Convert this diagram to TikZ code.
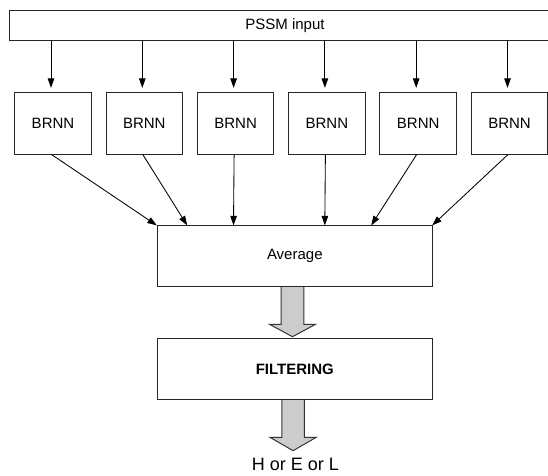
\documentclass[tikz,border=0pt]{standalone}
\usepackage{fontspec}
\setmainfont{Liberation Sans}
\usetikzlibrary{arrows.meta,calc}
\begin{document}
\begin{tikzpicture}[x=1pt,y=-1pt,
  box/.style={draw=black!85,line width=1pt,inner sep=0pt,font=\fontsize{15}{17}\selectfont},
  brnn/.style={box,minimum width=76.6pt,minimum height=61.3pt},
  wide/.style={box,minimum width=275pt,minimum height=60.6pt},
  arr/.style={draw=black,line width=0.85pt,-{Triangle[length=9.5pt,width=6.5pt]}},
  bigarrow/.style={draw=black!80,line width=1pt,fill=black!20}]
\clip (0,0) rectangle (548,475);
\useasboundingbox (0,0) rectangle (548,475);
\node[box,minimum width=550.6pt,minimum height=30pt] (pssm) at (285,25.7) {PSSM input};
\foreach \i/\x in {1/53,2/144.3,3/235.6,4/326.9,5/418.2,6/509.5}{
  \node[brnn] (b\i) at (\x,123.35) {BRNN};
}
\node[wide] (avg) at (294.8,256.2) {Average};
\node[wide] (filt) at (294.8,369.2) {\textbf{FILTERING}};
\node[anchor=base,inner sep=0pt,font=\fontsize{18}{20}\selectfont] (out) at (295.5,470.5) {H or E or L};
% arrows from PSSM input to BRNNs
\foreach \i in {1,...,6}{
  \coordinate (t\i) at ([xshift=-2pt]b\i.north);
  \draw[arr,shorten >=4.3pt] (t\i |- pssm.south) -- (t\i);
}
% arrows from BRNNs to Average
\foreach \i/\e in {1/0,2/30.4,3/76.7,4/168,5/214.4,6/275.4}{
  \coordinate (s\i) at ([xshift=-1.5pt]b\i.south);
  \coordinate (e\i) at ([xshift=\e pt]avg.north west);
  \draw[arr] (s\i) -- (e\i);
}
% block arrows
\coordinate (c1) at ([xshift=-2.3pt]avg.south);
\draw[bigarrow] ([xshift=-11.3pt]c1) -- ([xshift=-11.3pt,yshift=-37.3pt]c1) -- ([xshift=-23pt,yshift=-37.3pt]c1)
  -- ($(c1 |- filt.north)+(0,-1.7)$) -- ([xshift=23pt,yshift=-37.3pt]c1) -- ([xshift=11.3pt,yshift=-37.3pt]c1)
  -- ([xshift=11.3pt]c1) ;
\coordinate (c2) at ([xshift=-1.7pt]filt.south);
\draw[bigarrow] ([xshift=-11.3pt]c2) -- ([xshift=-11.3pt,yshift=-37.4pt]c2) -- ([xshift=-23pt,yshift=-37.4pt]c2)
  -- ([yshift=-50.7pt]c2) -- ([xshift=23pt,yshift=-37.4pt]c2) -- ([xshift=11.3pt,yshift=-37.4pt]c2)
  -- ([xshift=11.3pt]c2) ;
\end{tikzpicture}
\end{document}
